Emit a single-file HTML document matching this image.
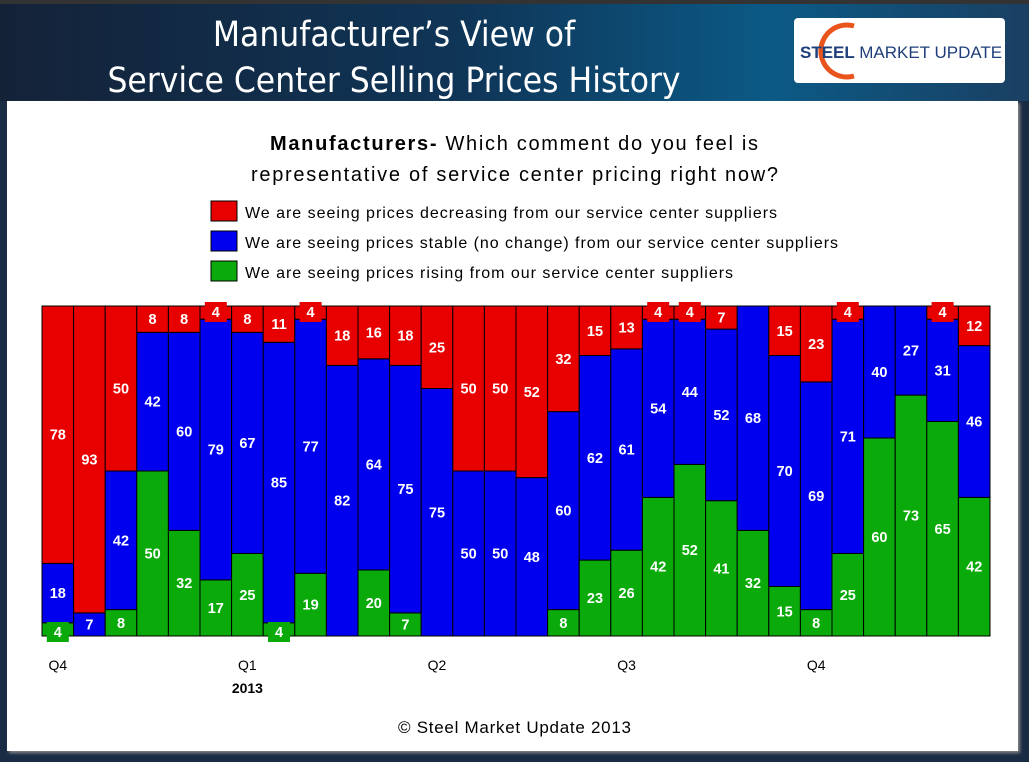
<!DOCTYPE html>
<html><head><meta charset="utf-8"><style>
body{margin:0;width:1029px;height:762px;overflow:hidden;background:#1a2c44;font-family:"Liberation Sans",sans-serif;}
#hdr{position:absolute;left:0;top:0;width:1029px;height:101px;background:linear-gradient(90deg,#142238 0%,#0f3557 45%,#0b5a86 75%,#1a3f62 100%);border-top:4px solid #333;box-sizing:border-box}
#title{position:absolute;left:84px;width:620px;top:8px;text-align:center;color:#fff;font-size:35px;line-height:46px;font-family:"DejaVu Sans Condensed","Liberation Sans Narrow",sans-serif}
#logo{position:absolute;left:794px;top:14px;width:211px;height:65px;background:#fff;border-radius:4px}
#panel{position:absolute;left:7px;top:101px;width:1011px;height:650px;background:#fff;box-shadow:2px 2px 3px #888}
</style></head><body>
<div id="hdr">
<div id="title">Manufacturer’s View of<br>Service Center Selling Prices History</div>
<div id="logo">
<svg width="211" height="65"><path d="M60 8 A26 26 0 1 0 60 58" stroke="#e8541c" stroke-width="5" fill="none"/>
<text x="6" y="40" font-size="17" font-weight="bold" fill="#1f3f7a" font-family="Liberation Sans Narrow,Liberation Sans,sans-serif">STEEL <tspan font-weight="normal">MARKET UPDATE</tspan></text></svg></div>
</div>
<div id="panel"></div>
<svg id="chart" width="1029" height="762" style="position:absolute;left:0;top:0"></svg>
<script>
const falling=[78,93,50,8,8,4,8,11,4,18,16,18,25,50,50,52,32,15,13,4,4,7,0,15,23,4,0,0,4,12];
const stable=[18,7,42,42,60,79,67,85,77,82,64,75,75,50,50,48,60,62,61,54,44,52,68,70,69,71,40,27,31,46];
const rising=[4,0,8,50,32,17,25,4,19,0,20,7,0,0,0,0,8,23,26,42,52,41,32,15,8,25,60,73,65,42];
const quarterLabels=["Q4","Q1","Q2","Q3","Q4"];
const quarterIdx=[0,6,12,18,24];
const legendLabels=["We are seeing prices decreasing from our service center suppliers","We are seeing prices stable (no change) from our service center suppliers","We are seeing prices rising from our service center suppliers"];
const legendLens=[532,593,488];
const colors=["#e80000","#0000ee","#0aaa0a"];
const svg=document.getElementById('chart');const NS="http://www.w3.org/2000/svg";
const X0=42,X1=990,Y0=636,Y1=306,n=falling.length,bw=(X1-X0)/n;
const x=i=>X0+i*bw, y=v=>Y0-(v/100)*(Y0-Y1);
function mk(t,a,p){const e=document.createElementNS(NS,t);for(const k in a)e.setAttribute(k,a[k]);(p||svg).appendChild(e);return e;}
function txt(s,a){const e=mk('text',a);e.textContent=s;return e;}
let t=txt("",{x:270,y:150,"font-size":20,fill:"#000",textLength:488,lengthAdjust:"spacing"});

t.innerHTML='<tspan font-weight="bold">Manufacturers-</tspan> Which comment do you feel is';
t=txt("representative of service center pricing right now?",{x:251,y:181,"font-size":20,fill:"#000",textLength:527,lengthAdjust:"spacing"});

legendLabels.forEach((l,k)=>{const g=mk('g',{});

mk('rect',{x:211,y:201+k*30,width:26,height:20,fill:colors[k],stroke:"#000"},g);
const e=mk('text',{x:245,y:218+k*30,"font-size":16,fill:"#000",textLength:legendLens[k],lengthAdjust:"spacing"},g);e.textContent=l;});
const labels=[];
for(let i=0;i<n;i++){const g=mk('g',{});

let base=0;[[rising[i],2],[stable[i],1],[falling[i],0]].forEach(([v,c])=>{
 if(v<=0)return;const yt=y(base+v),yb=y(base);
 mk('rect',{x:x(i),y:yt,width:bw,height:yb-yt,fill:colors[c],stroke:"#000","stroke-width":1},g);
 labels.push([v,c,x(i)+bw/2,(yt+yb)/2,c===0&&base+v>=100,c===2&&base===0]);base+=v;});}
labels.forEach(([v,c,cx,cy,top,bot])=>{let yy=cy;
 if(v<6){yy=top?y(100)+6:(bot?y(0)-4:cy);mk('rect',{x:cx-11,y:yy-10,width:22,height:20,fill:colors[c]});}
 const e=txt(v,{x:cx,y:yy+5,"text-anchor":"middle","font-size":14.5,"font-weight":"bold",fill:"#fff"});
 });
quarterLabels.forEach((q,k)=>{const e=txt(q,{x:x(quarterIdx[k])+bw/2,y:670,"text-anchor":"middle","font-size":14,fill:"#000"});
 });
t=txt("2013",{x:x(6)+bw/2,y:693,"text-anchor":"middle","font-size":14,"font-weight":"bold",fill:"#000"});

t=txt("© Steel Market Update 2013",{x:398,y:733,"font-size":17,fill:"#000",textLength:233,lengthAdjust:"spacing"});

</script>
</body></html>
